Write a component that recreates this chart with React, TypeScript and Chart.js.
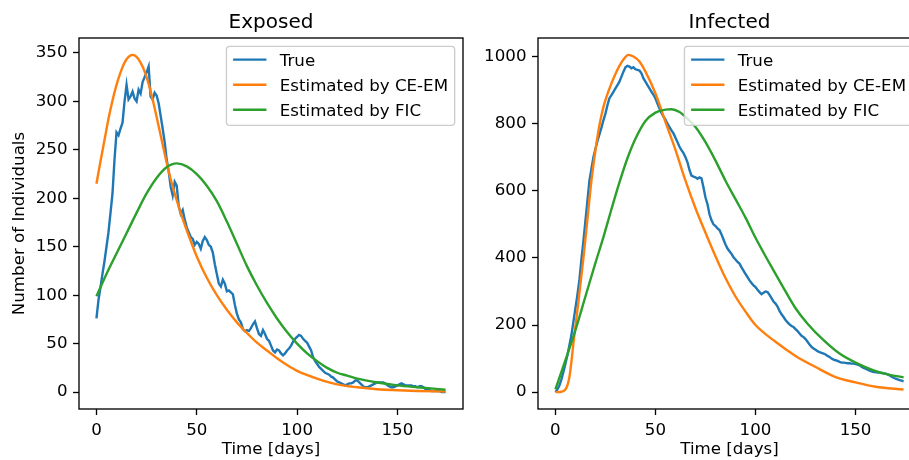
import React, { useEffect, useRef } from "react";
import { Chart, registerables } from "chart.js";

Chart.register(...registerables);

const FONT = "DejaVu Sans";
const BLUE = "#1f77b4";
const ORANGE = "#ff7f0e";
const GREEN = "#2ca02c";

const LEGEND_LABELS = ["True", "Estimated by CE-EM", "Estimated by FIC"];
const X_TICKS = [0, 50, 100, 150];
const EXPOSED_Y_TICKS = [0, 50, 100, 150, 200, 250, 300, 350];
const INFECTED_Y_TICKS = [0, 200, 400, 600, 800, 1000];

// ---- Exposed (one value per day, day 0..174) ----
const TRUE_EXPOSED = [
  76, 95, 108, 122, 135, 150, 165, 185, 205, 240,
  268, 265, 272, 278, 300, 317, 302, 305, 310, 303,
  300, 312, 308, 320, 325, 330, 336, 305, 302, 309,
  306, 298, 285, 272, 258, 240, 228, 212, 203, 217,
  213, 192, 184, 188, 178, 170, 165, 160, 158, 152,
  155, 153, 148, 156, 160, 157, 152, 150, 144, 132,
  122, 112, 109, 116, 112, 104, 105, 103, 101, 90,
  81, 75, 72, 65, 63, 64, 63, 66, 70, 73,
  66, 60, 58, 64, 60, 55, 53, 48, 43, 41,
  44, 43, 40, 38, 40, 43, 45, 48, 52, 55,
  57, 59, 58, 55, 53, 51, 47, 43, 36, 32,
  29, 26, 24, 22, 20, 19, 18, 16, 15, 13,
  11, 10, 9, 8, 7, 8, 9, 9, 10, 12,
  12, 10, 8, 6, 5, 5, 6, 7, 8, 9,
  10, 10, 10, 10, 9, 7, 6, 5, 5, 6,
  7, 8, 9, 8, 7, 7, 7, 7, 6, 6,
  5, 6, 6, 5, 3, 2, 2, 1, 1, 1,
  1, 1, 0, 0, 0,
];
const CEEM_EXPOSED_DAYS = [0, 2, 4, 6, 8, 10, 12, 14, 16, 18, 20, 22, 24, 26, 28, 30, 32, 34, 36, 38, 40, 42, 45, 50, 55, 60, 65, 70, 75, 80, 85, 90, 95, 100, 110, 120, 130, 140, 150, 160, 174];
const CEEM_EXPOSED = [215, 238, 260, 282, 301, 317, 330, 340, 346, 348, 346, 340, 331, 318, 302, 284, 265, 246, 228, 212, 198, 185, 167, 140, 118, 100, 85, 72, 61, 51, 43, 35, 28, 22, 14, 8, 5, 3, 2, 1.2, 0.6];
const FIC_EXPOSED_DAYS = [0, 5, 10, 15, 20, 25, 30, 35, 40, 45, 50, 55, 60, 65, 70, 75, 80, 85, 90, 95, 100, 105, 110, 115, 120, 125, 130, 140, 150, 160, 174];
const FIC_EXPOSED = [99, 122, 143, 164, 185, 205, 221, 232, 236, 233, 225, 213, 197, 176, 153, 130, 110, 92, 76, 62, 50, 40, 32, 25, 20, 17, 14, 10, 7, 5, 2.5];

// ---- Infected ----
const TRUE_INFECTED = [
  0, 8, 20, 38, 60, 85, 110, 140, 170, 210,
  250, 290, 335, 395, 450, 510, 570, 630, 665, 700,
  725, 748, 768, 788, 810, 830, 855, 876, 885, 895,
  905, 915, 925, 940, 955, 968, 972, 970, 965, 968,
  962, 960, 958, 950, 935, 925, 915, 905, 895, 886,
  875, 860, 845, 832, 821, 812, 800, 790, 780, 771,
  758, 745, 731, 721, 712, 700, 685, 662, 645, 642,
  640, 636, 640, 637, 610, 580, 560, 530, 512, 500,
  495, 488, 483, 470, 455, 440, 428, 420, 412, 402,
  395, 388, 383, 372, 362, 352, 343, 333, 325, 318,
  313, 305, 298, 292, 296, 300, 298, 290, 280, 270,
  264, 255, 242, 232, 224, 215, 208, 202, 197, 194,
  188, 182, 175, 168, 164, 158, 150, 142, 135, 130,
  126, 122, 119, 117, 115, 112, 108, 105, 100, 97,
  95, 93, 90, 88, 88, 87, 86, 86, 85, 85,
  84, 82, 80, 76, 72, 70, 67, 64, 62, 60,
  60, 58, 58, 57, 56, 55, 53, 50, 46, 43,
  40, 38, 36, 34, 32,
];
const CEEM_INFECTED_DAYS = [0, 3, 5, 6, 7, 8, 9, 10, 12, 14, 16, 18, 20, 22, 24, 26, 28, 30, 32, 34, 36.5, 39, 42, 45, 50, 55, 60, 65, 70, 75, 80, 85, 90, 95, 100, 110, 120, 130, 140, 150, 160, 174];
const CEEM_INFECTED = [0, 1, 8, 20, 45, 90, 145, 195, 295, 400, 515, 630, 720, 795, 850, 888, 920, 948, 972, 991, 1005, 1000, 985, 955, 890, 805, 722, 630, 548, 475, 405, 340, 285, 240, 200, 150, 108, 75, 45, 29, 16, 8];
const FIC_INFECTED_DAYS = [0, 5, 10, 15, 20, 24, 28, 32, 36, 40, 45, 50, 55, 58, 62, 66, 70, 75, 80, 85, 90, 95, 100, 105, 109, 115, 120, 126, 134, 142, 150, 159, 166, 174];
const FIC_INFECTED = [8, 95, 185, 285, 385, 462, 545, 625, 697, 755, 808, 833, 842, 843, 835, 815, 790, 745, 690, 630, 575, 520, 460, 405, 363, 300, 250, 204, 155, 115, 88, 65, 53, 44];

const FS = 16.67;

function decorPlugin(title: string) {
  return {
    id: "decor",
    afterDatasetsDraw(chart: any) {
      const { ctx, chartArea: a } = chart;
      ctx.save();
      // axes frame
      ctx.strokeStyle = "#000";
      ctx.lineWidth = 1.33;
      ctx.strokeRect(a.left, a.top, a.right - a.left, a.bottom - a.top);
      // legend (matplotlib-like)
      ctx.font = `${FS}px "${FONT}"`;
      const ds = chart.data.datasets;
      const labels: string[] = ds.map((d: any) => d.label);
      const maxW = Math.max(...labels.map((l) => ctx.measureText(l).width));
      const pad = 0.4 * FS, hl = 2 * FS, htp = 0.8 * FS, bap = 0.5 * FS;
      const w = 2 * pad + hl + htp + maxW;
      const h = 2 * pad + labels.length * FS + (labels.length - 1) * 0.5 * FS - 1;
      const x0 = a.right - bap - w;
      const y0 = a.top + bap;
      ctx.beginPath();
      (ctx as any).roundRect(x0, y0, w, h, 3.3);
      ctx.fillStyle = "rgba(255,255,255,0.8)";
      ctx.fill();
      ctx.strokeStyle = "#cccccc";
      ctx.lineWidth = 1.33;
      ctx.stroke();
      labels.forEach((l, i) => {
        const cy = y0 + pad + 0.4 * FS + i * 1.5 * FS;
        ctx.beginPath();
        ctx.strokeStyle = ds[i].borderColor;
        ctx.lineWidth = 2.4;
        ctx.moveTo(x0 + pad, cy);
        ctx.lineTo(x0 + pad + hl, cy);
        ctx.stroke();
        ctx.fillStyle = "#000";
        ctx.textAlign = "left";
        ctx.textBaseline = "alphabetic";
        ctx.fillText(l, x0 + pad + hl + htp, cy + 6.2);
      });
      ctx.restore();
    },
    afterDraw(chart: any) {
      const { ctx, chartArea: a } = chart;
      ctx.save();
      ctx.font = `20px "${FONT}"`;
      ctx.fillStyle = "#000";
      ctx.textAlign = "center";
      ctx.textBaseline = "alphabetic";
      ctx.fillText(title, (a.left + a.right) / 2, a.top - 10);
      ctx.restore();
    },
  };
}

type PanelProps = {
  title: string;
  yLabel?: string;
  trueVals: number[];
  ceDays: number[];
  ceVals: number[];
  ficDays: number[];
  ficVals: number[];
  yTicks: number[];
  width: number;
  height: number;
  yAxisWidth: number;
  padRight: number;
};

function Panel(p: PanelProps) {
  const ref = useRef<HTMLCanvasElement>(null);
  useEffect(() => {
    const allY = [...p.trueVals, ...p.ceVals, ...p.ficVals];
    const yLo = Math.min(...allY), yHi = Math.max(...allY);
    const xLo = 0, xHi = p.trueVals.length - 1;
    const ym = 0.05 * (yHi - yLo), xm = 0.05 * (xHi - xLo);
    const tickFont = { family: FONT, size: FS };
    const grid = { drawOnChartArea: false, drawTicks: true, tickLength: 6, tickWidth: 1.33, tickColor: "#000" };
    const chart = new Chart(ref.current as HTMLCanvasElement, {
      type: "line",
      data: {
        datasets: [
          {
            label: LEGEND_LABELS[0],
            data: p.trueVals.map((y, i) => ({ x: i, y })),
            borderColor: BLUE,
            borderWidth: 2.4,
            pointRadius: 0,
            tension: 0,
            order: 3,
          },
          {
            label: LEGEND_LABELS[1],
            data: p.ceDays.map((x, i) => ({ x, y: p.ceVals[i] })),
            borderColor: ORANGE,
            borderWidth: 2.4,
            pointRadius: 0,
            cubicInterpolationMode: "monotone",
            order: 2,
          },
          {
            label: LEGEND_LABELS[2],
            data: p.ficDays.map((x, i) => ({ x, y: p.ficVals[i] })),
            borderColor: GREEN,
            borderWidth: 2.4,
            pointRadius: 0,
            cubicInterpolationMode: "monotone",
            order: 1,
          },
        ],
      } as any,
      options: {
        responsive: false,
        animation: false,
        events: [],
        layout: { padding: { left: 0, right: p.padRight, top: 38, bottom: 0 } },
        plugins: { legend: { display: false }, tooltip: { enabled: false }, title: { display: false } },
        scales: {
          x: {
            type: "linear",
            min: xLo - xm,
            max: xHi + xm,
            afterBuildTicks: (s: any) => { s.ticks = X_TICKS.map((v) => ({ value: v })); },
            afterFit: (s: any) => { s.height = 51; },
            ticks: { font: tickFont, color: "#000", padding: 5.5, maxRotation: 0, callback: (v: any) => String(v) },
            grid,
            border: { display: false },
            title: {
              display: true,
              text: "Time [days]",
              color: "#000",
              font: { family: FONT, size: FS, lineHeight: 1.2 },
              padding: { top: 0, bottom: 0 },
            },
          },
          y: {
            type: "linear",
            min: yLo - ym,
            max: yHi + ym,
            afterBuildTicks: (s: any) => { s.ticks = p.yTicks.map((v) => ({ value: v })); },
            afterFit: (s: any) => { s.width = p.yAxisWidth; },
            ticks: { font: tickFont, color: "#000", padding: 5.5, callback: (v: any) => String(v) },
            grid,
            border: { display: false },
            title: p.yLabel
              ? {
                  display: true,
                  text: p.yLabel,
                  color: "#000",
                  font: { family: FONT, size: FS, lineHeight: 1.2 },
                  padding: { top: 10, bottom: 0 },
                }
              : { display: false },
          },
        },
      } as any,
      plugins: [decorPlugin(p.title)],
    });
    return () => chart.destroy();
  }, []);
  return (
    <canvas
      ref={ref}
      width={p.width}
      height={p.height}
      style={{ display: "block", width: p.width, height: p.height }}
    />
  );
}

export default function App() {
  return (
    <div
      style={{
        position: "fixed",
        left: 0,
        top: 0,
        width: 909,
        height: 460,
        overflow: "hidden",
        background: "#fff",
      }}
    >
      <div style={{ position: "absolute", left: 0, top: 0, width: 470, height: 460 }}>
        <Panel
          title="Exposed"
          yLabel="Number of Individuals"
          trueVals={TRUE_EXPOSED}
          ceDays={CEEM_EXPOSED_DAYS}
          ceVals={CEEM_EXPOSED}
          ficDays={FIC_EXPOSED_DAYS}
          ficVals={FIC_EXPOSED}
          yTicks={EXPOSED_Y_TICKS}
          width={470}
          height={460}
          yAxisWidth={79}
          padRight={7}
        />
      </div>
      <div style={{ position: "absolute", left: 470, top: 0, width: 439, height: 460, overflow: "hidden" }}>
        <Panel
          title="Infected"
          trueVals={TRUE_INFECTED}
          ceDays={CEEM_INFECTED_DAYS}
          ceVals={CEEM_INFECTED}
          ficDays={FIC_INFECTED_DAYS}
          ficVals={FIC_INFECTED}
          yTicks={INFECTED_Y_TICKS}
          width={458}
          height={460}
          yAxisWidth={68}
          padRight={7}
        />
      </div>
    </div>
  );
}
